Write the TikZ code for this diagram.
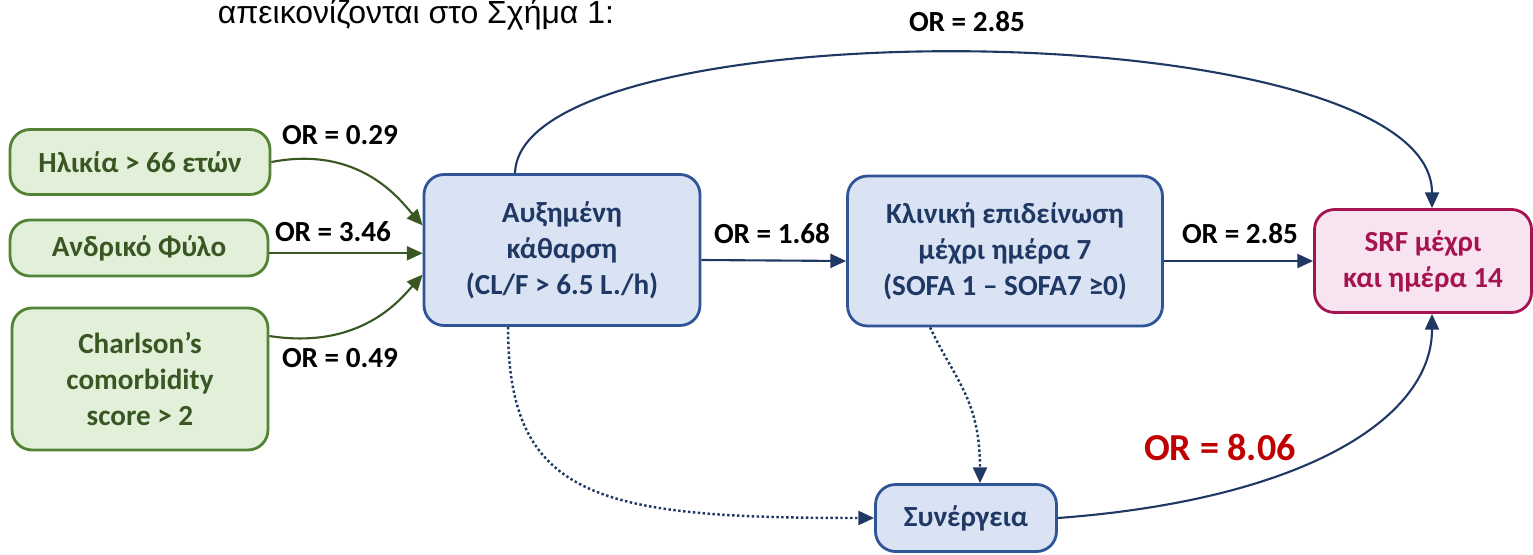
\documentclass[tikz,border=0pt]{standalone}
\usepackage{fontspec}
\setmainfont{Carlito}
\newfontfamily\arialfont{Liberation Sans}
\usetikzlibrary{arrows.meta}
\definecolor{leafgreen}{RGB}{226,240,217}
\definecolor{mossgreen}{RGB}{84,130,53}
\definecolor{forestgreen}{RGB}{56,87,35}
\definecolor{paleblue}{RGB}{218,227,243}
\definecolor{steelblue}{RGB}{47,85,151}
\definecolor{navyblue}{RGB}{31,56,100}
\definecolor{palepink}{RGB}{248,228,240}
\definecolor{raspberry}{RGB}{165,20,80}
\definecolor{crimson}{RGB}{192,0,0}
\tikzset{
    box/.style={draw, rounded corners=0.4cm, line width=1.6pt, align=center,
                font=\fontsize{16.6}{20.4}\selectfont\bfseries},
    greenbox/.style={box, draw=mossgreen, fill=leafgreen, text=forestgreen},
    bluebox/.style={box, draw=steelblue, fill=paleblue, text=navyblue},
    pinkbox/.style={box, draw=raspberry, fill=palepink, text=raspberry},
    orlabel/.style={font=\fontsize{16.6}{19}\selectfont\bfseries},
    greenarrow/.style={-{Triangle[length=9pt,width=8pt]}, color=forestgreen, line width=1.2pt},
    bluearrow/.style={-{Triangle[length=9pt,width=8pt]}, color=navyblue, line width=1.2pt},
    synarrow/.style={bluearrow, line width=1.4pt, dash pattern=on 1.4pt off 1.4pt}
}

\begin{document}
\begin{tikzpicture}[x=0.02cm, y=-0.02cm]
            \useasboundingbox (0,0) rectangle (1533,554);
            % Caption line
            \node[anchor=base, font=\arialfont\fontsize{18.2}{20}\selectfont] (caption) at (416,24)
                 {απεικονίζονται στο Σχήμα 1:};
            % Risk factors
            \node[greenbox, minimum width=5.2cm,  minimum height=1.3cm]  (age)    at (140,162) {Ηλικία > 66 ετών};
            \node[greenbox, minimum width=5.16cm, minimum height=1.12cm] (male)   at (139,248) {Ανδρικό Φύλο};
            \node[greenbox, minimum width=5.12cm, minimum height=2.84cm] (charl)  at (140,379) {Charlson’s\\comorbidity\\score > 2};
            % Main chain
            \node[bluebox,  minimum width=5.52cm, minimum height=3.02cm] (clear)  at (562,250) {Αυξημένη\\κάθαρση\\(CL/F > 6.5 L./h)};
            \node[bluebox,  minimum width=6.3cm,  minimum height=3.0cm]  (clinic) at (1005,251) {Κλινική επιδείνωση\\μέχρι ημέρα 7\\(SOFA 1 – SOFA7 ≥0)};
            \node[pinkbox,  minimum width=4.34cm, minimum height=2.06cm] (srf)    at (1423,261) {SRF μέχρι\\και ημέρα 14};
            \node[bluebox,  minimum width=3.62cm, minimum height=1.34cm] (syn)    at (966,518) {Συνέργεια};
            % Odds ratios
            \node[orlabel] (or029) at (340,135) {OR = 0.29};
            \node[orlabel] (or346) at (333,232) {OR = 3.46};
            \node[orlabel] (or049) at (340,358) {OR = 0.49};
            \node[orlabel] (or168) at (772,234) {OR = 1.68};
            \node[orlabel] (or285) at (1240,234) {OR = 2.85};
            \node[orlabel] (ortop) at (967,22) {OR = 2.85};
            \node[orlabel, text=crimson, font=\fontsize{21.7}{24}\selectfont\bfseries] (or806) at (1220,447) {OR = 8.06};
            % Arrows into clearance
            \draw[greenarrow] (age.east) .. controls (360,145) and (400,200) .. (clear.170);
            \draw[greenarrow] ([yshift=-3pt]male.east) -- ([yshift=-3pt]male.east -| clear.west);
            \draw[greenarrow] ([yshift=0.86cm]charl.east) .. controls (360,350) and (400,300) .. (clear.190);
            % Chain arrows
            \draw[bluearrow]  ([yshift=-0.2cm]clear.east) -- (clinic.west |- srf.west);
            \draw[bluearrow]  (clinic.east |- srf.west) -- (srf.west);
            \draw[bluearrow]  ([xshift=-0.94cm]clear.north) .. controls (520,5) and (1432,10) .. ([xshift=0.18cm]srf.north);
            \draw[bluearrow]  (syn.east) .. controls (1300,500) and (1432,420) .. ([xshift=0.18cm]srf.south);
            % Synergy (dotted)
            \draw[synarrow]   ([xshift=-1.08cm]clear.south) .. controls (508,500) and (600,518) .. (syn.west);
            \draw[synarrow]   ([xshift=-1.5cm]clinic.south) .. controls (955,380) and (980,400) .. ([xshift=0.28cm]syn.north);
\end{tikzpicture}
\end{document}
